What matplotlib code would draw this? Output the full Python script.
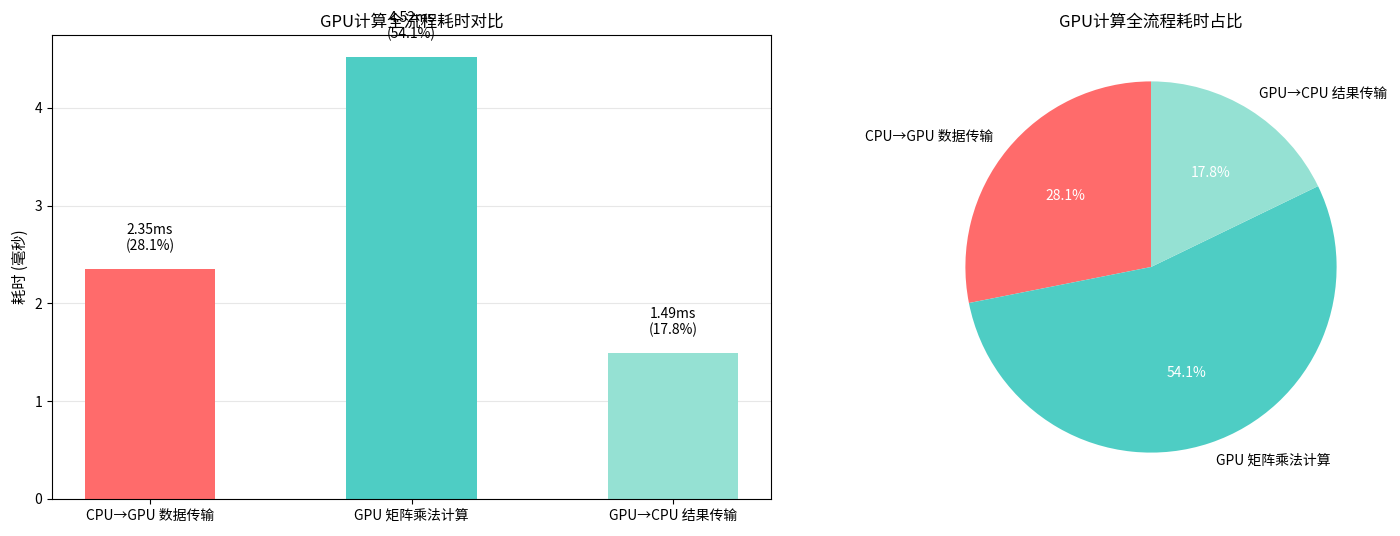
import matplotlib
matplotlib.use('Agg')
import matplotlib.pyplot as plt

plt.rcParams['font.family'] = ['Noto Sans CJK SC', 'DejaVu Sans']
plt.rcParams['axes.unicode_minus'] = False

# data
stages = ['CPU→GPU 数据传输', 'GPU 矩阵乘法计算', 'GPU→CPU 结果传输']
times_ms = [2.35, 4.52, 1.49]
colors = ['#FF6B6B', '#4ECDC4', '#95E1D3']

total = sum(times_ms)
pcts = [t / total * 100 for t in times_ms]

fig = plt.figure(figsize=(14, 5.36), dpi=100)
ax1 = fig.add_axes([52 / 1400, 37 / 536, 719 / 1400, 464 / 536])
ax2 = fig.add_axes([(1151 - 232) / 1400, 37 / 536, 464 / 1400, 464 / 536])

# bar chart
x = range(len(stages))
ax1.bar(x, times_ms, width=0.5, color=colors)
ax1.set_xticks(list(x))
ax1.set_xticklabels(stages, fontsize=10)
ax1.set_ylabel('耗时 (毫秒)', fontsize=11)
ax1.set_title('GPU计算全流程耗时对比', fontsize=12)
ax1.set_ylim(0, max(times_ms) * 1.05)
ax1.grid(axis='y', alpha=0.3)
ax1.set_axisbelow(True)
for i, (t, p) in enumerate(zip(times_ms, pcts)):
    ax1.text(i, t + 0.16, f'{t:.2f}ms\n({p:.1f}%)', ha='center', va='bottom', fontsize=10)

# pie chart
wedges, texts, autotexts = ax2.pie(times_ms, labels=stages, colors=colors, autopct='%1.1f%%',
                                   startangle=90, textprops={'fontsize': 10})
for at in autotexts:
    at.set_color('white')
ax2.set_title('GPU计算全流程耗时占比', fontsize=12)

fig.savefig('out.png', dpi=100)
